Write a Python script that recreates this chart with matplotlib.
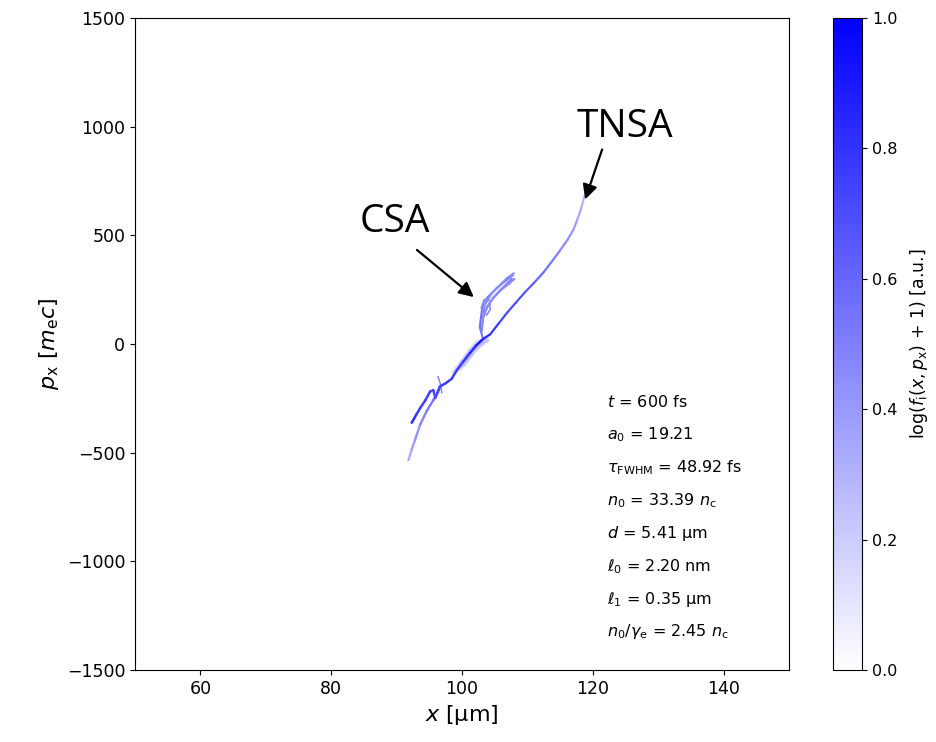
import numpy as np
import matplotlib
matplotlib.use("Agg")
import matplotlib.pyplot as plt
from matplotlib.colors import LinearSegmentedColormap, Normalize
from matplotlib.collections import LineCollection
from matplotlib.cm import ScalarMappable

# ---------------- data ----------------
# lower light branch
low_light_x = [91.8, 92.3, 92.8, 93.6, 94.6, 95.6, 96.1, 96.6]
low_light_p = [-534, -485, -442, -370, -308, -258, -235, -200]
low_light_lv = [0.3, 0.35, 0.4, 0.45, 0.5, 0.55, 0.6, 0.6]

# lower dark branch (with the small hook)
low_dark_x = [92.3, 93.0, 93.6, 94.4, 95.1, 95.6, 95.9, 96.2, 96.6, 97.5, 98.4, 99.2, 100.2, 101.2, 102.2, 103.2]
low_dark_p = [-362, -325, -294, -258, -219, -212, -248, -225, -196, -180, -160, -120, -80, -41, -5, 23]
low_dark_lv = [0.85, 0.8, 0.75, 0.75, 0.75, 0.7, 0.7, 0.7, 0.75, 0.75, 0.75, 0.75, 0.75, 0.8, 0.85, 0.9]

# small spike near the hook
spike_x = [96.3, 96.7, 96.9]
spike_p = [-150, -185, -225]
spike_lv = [0.5, 0.55, 0.5]

# main TNSA branch from the knot to the tip
tnsa_x = [103.2, 104.3, 105.6, 106.9, 108.2, 109.6, 111.0, 112.4, 113.9, 115.0, 116.1, 117.0, 117.6, 118.2, 118.7]
tnsa_p = [23, 45, 95, 145, 190, 238, 282, 328, 387, 432, 479, 525, 571, 625, 681]
tnsa_lv = [0.9, 0.8, 0.75, 0.7, 0.7, 0.68, 0.62, 0.58, 0.52, 0.48, 0.44, 0.4, 0.36, 0.32, 0.28]

# CSA band strands
csa_a_x = [103.2, 102.7, 103.0, 103.3, 104.0, 105.3, 106.6, 107.8]
csa_a_p = [23, 78, 150, 190, 218, 258, 290, 318]
csa_b_x = [103.0, 103.2, 103.8, 104.8, 105.9, 107.0, 107.6]
csa_b_p = [60, 120, 170, 215, 250, 282, 300]
csa_c_x = [103.1, 103.4, 104.5, 105.6, 106.8, 107.9]
csa_c_p = [90, 175, 232, 265, 302, 326]
csa_d_x = [102.9, 103.4, 104.2, 104.3, 103.8, 103.2]
csa_d_p = [165, 205, 200, 160, 135, 140]
csa_e_x = [103.5, 104.6, 105.8, 107.2, 108.0]
csa_e_p = [150, 205, 245, 278, 300]
csa_lv = [0.55, 0.5, 0.45, 0.45, 0.45]

# haze below the knot
haze_a_x = [99.6, 100.8, 102.0, 103.0, 103.8]
haze_a_p = [-110, -60, -15, 10, 20]
haze_b_x = [100.2, 101.4, 102.6, 103.6]
haze_b_p = [-95, -45, -5, 15]
haze_c_x = [98.8, 100.0, 101.3, 102.5]
haze_c_p = [-130, -85, -30, 10]
haze_lv = [0.3, 0.3, 0.25]

cbar_ticks = [0.0, 0.2, 0.4, 0.6, 0.8, 1.0]
x_ticks = [60, 80, 100, 120, 140]
y_ticks = [-1500, -1000, -500, 0, 500, 1000, 1500]

info_lines = [r'$t$ = 600 fs', r'$a_0$ = 19.21', r'$\tau_\mathrm{FWHM}$ = 48.92 fs',
              r'$n_0$ = 33.39 $n_\mathrm{c}$', r'$d$ = 5.41 µm', r'$\ell_0$ = 2.20 nm',
              r'$\ell_1$ = 0.35 µm', r'$n_0/\gamma_\mathrm{e}$ = 2.45 $n_\mathrm{c}$']

# ---------------- figure ----------------
cmap = LinearSegmentedColormap.from_list('wb', ['white', 'blue'])
norm = Normalize(0, 1)

fig = plt.figure(figsize=(9.36, 7.42), dpi=100)
ax = fig.add_axes([0.1442, 0.097, 0.699, 0.8787])
cax = fig.add_axes([0.890, 0.097, 0.031, 0.8787])


def draw(x, p, lv, lw=1.4, alpha=1.0):
    pts = np.column_stack([x, p])
    segs = np.stack([pts[:-1], pts[1:]], axis=1)
    lv = np.asarray(lv, dtype=float)
    if lv.ndim == 0:
        vals = np.full(len(segs), float(lv))
    else:
        vals = 0.5 * (lv[:-1] + lv[1:])
    lc = LineCollection(segs, cmap=cmap, norm=norm, linewidths=lw, alpha=alpha,
                        capstyle='round', joinstyle='round')
    lc.set_array(vals)
    ax.add_collection(lc)


draw(haze_a_x, haze_a_p, haze_lv[0], lw=4, alpha=0.5)
draw(haze_b_x, haze_b_p, haze_lv[1], lw=4, alpha=0.5)
draw(haze_c_x, haze_c_p, haze_lv[2], lw=4, alpha=0.5)
draw(csa_a_x, csa_a_p, csa_lv[0], lw=1.5)
draw(csa_b_x, csa_b_p, csa_lv[1], lw=1.5)
draw(csa_c_x, csa_c_p, csa_lv[2], lw=1.5)
draw(csa_d_x, csa_d_p, csa_lv[3], lw=1.2)
draw(csa_e_x, csa_e_p, csa_lv[4], lw=1.5)
draw(low_light_x, low_light_p, low_light_lv, lw=1.7)
draw(spike_x, spike_p, spike_lv, lw=1.0)
draw(low_dark_x, low_dark_p, low_dark_lv, lw=1.8)
draw(tnsa_x, tnsa_p, tnsa_lv, lw=1.6)

ax.set_xlim(50, 150)
ax.set_ylim(-1500, 1500)
ax.set_xticks(x_ticks)
ax.set_yticks(y_ticks)
ax.tick_params(labelsize=12.5)
ax.set_xlabel(r'$x$ [µm]', fontsize=16, labelpad=4)
ax.set_ylabel(r'$p_\mathrm{x}$ $[m_\mathrm{e}c]$', fontsize=16, labelpad=4)

for i, s in enumerate(info_lines):
    ax.text(122.2, -268 - 151 * i, s, fontsize=11.5, ha='left', va='center')

# annotations
ax.annotate('', xy=(118.8, 665), xytext=(121.4, 895),
            arrowprops=dict(arrowstyle='-|>', color='black', lw=1.6, mutation_scale=22,
                            shrinkA=0, shrinkB=0))
ax.text(124.9, 998, 'TNSA', fontsize=28, family='Open Sans', ha='center', va='center')
ax.annotate('', xy=(101.8, 216), xytext=(93.1, 433),
            arrowprops=dict(arrowstyle='-|>', color='black', lw=1.6, mutation_scale=22,
                            shrinkA=0, shrinkB=0))
ax.text(89.8, 561, 'CSA', fontsize=28, family='Open Sans', ha='center', va='center')

sm = ScalarMappable(norm=norm, cmap=cmap)
cb = fig.colorbar(sm, cax=cax, ticks=cbar_ticks)
cb.ax.tick_params(labelsize=11.5)
cb.set_label(r'log($f_\mathrm{i}(x, p_\mathrm{x})$ + 1) [a.u.]', fontsize=12.5, labelpad=8)

fig.savefig('out.png', dpi=100)
